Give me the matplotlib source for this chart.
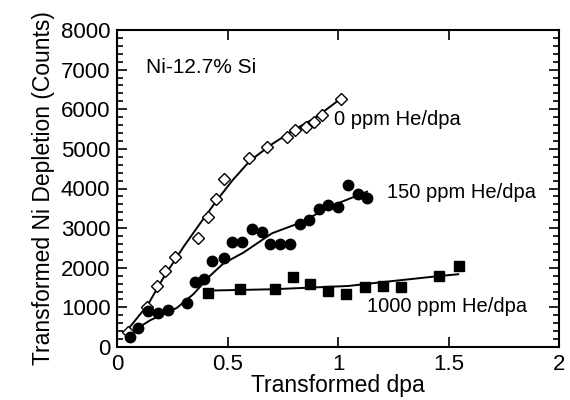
import matplotlib
matplotlib.use('Agg')
import matplotlib.pyplot as plt
from matplotlib.ticker import MultipleLocator

plt.rcParams['font.family'] = ['Liberation Sans', 'DejaVu Sans']

# 0 ppm He/dpa (open diamonds)
x0 = [0.048, 0.133, 0.179, 0.214, 0.259, 0.363, 0.409, 0.445, 0.484, 0.597,
      0.676, 0.766, 0.804, 0.856, 0.891, 0.927, 1.010]
y0 = [386, 1018, 1540, 1927, 2265, 2745, 3290, 3730, 4235, 4765,
      5058, 5311, 5480, 5548, 5682, 5850, 6263]
fx0 = [0.033, 0.137, 0.211, 0.30, 0.375, 0.45, 0.52, 0.6, 0.7, 0.8, 0.9, 0.995]
fy0 = [346, 1060, 1775, 2533, 3124, 3700, 4200, 4700, 5120, 5480, 5800, 6200]

# 150 ppm He/dpa (filled circles)
x150 = [0.055, 0.092, 0.137, 0.182, 0.229, 0.313, 0.350, 0.393, 0.430, 0.484,
        0.519, 0.566, 0.609, 0.653, 0.691, 0.735, 0.780, 0.825, 0.869, 0.914,
        0.955, 1.000, 1.045, 1.089, 1.128]
y150 = [244, 472, 909, 850, 934, 1119, 1633, 1709, 2180, 2239,
        2643, 2643, 2980, 2912, 2593, 2593, 2593, 3106, 3207, 3485,
        3586, 3527, 4091, 3855, 3754]
fx150 = [0.04, 0.15, 0.27, 0.345, 0.42, 0.48, 0.57, 0.7, 0.82, 0.91, 1.0, 1.13]
fy150 = [300, 680, 990, 1340, 1800, 2110, 2380, 2870, 3120, 3380, 3630, 3920]

# 1000 ppm He/dpa (filled squares)
x1000 = [0.408, 0.557, 0.714, 0.796, 0.871, 0.952, 1.034, 1.119, 1.201, 1.283,
         1.458, 1.545]
y1000 = [1372, 1465, 1465, 1760, 1591, 1414, 1330, 1523, 1540, 1507,
         1800, 2053]
fx1000 = [0.397, 0.702, 1.045, 1.193, 1.461, 1.543]
fy1000 = [1422, 1457, 1540, 1633, 1793, 1836]

fig = plt.figure(figsize=(5.7, 4), dpi=100)
ax = fig.add_axes([0.206, 0.1325, 0.775, 0.7925])

ax.plot(fx0, fy0, color='black', lw=1.4)
ax.plot(fx150, fy150, color='black', lw=1.4)
ax.plot(fx1000, fy1000, color='black', lw=1.4)
ax.plot(x0, y0, linestyle='none', marker='D', ms=6.5, mfc='white',
        mec='black', mew=1.0)
ax.plot(x150, y150, linestyle='none', marker='o', ms=7.5, color='black')
ax.plot(x1000, y1000, linestyle='none', marker='s', ms=7, color='black')

ax.set_xlim(0, 2)
ax.set_ylim(0, 8000)
ax.yaxis.set_major_locator(MultipleLocator(1000))
ax.yaxis.set_minor_locator(MultipleLocator(200))
ax.set_xticks([0, 0.5, 1, 1.5, 2], ['0', '0.5', '1', '1.5', '2'])
ax.tick_params(direction='in', which='both', top=True, right=True,
               labelsize=16, width=1.2)
ax.tick_params(which='major', length=7, pad=5)
ax.tick_params(which='minor', length=4)
for s in ax.spines.values():
    s.set_linewidth(1.5)

ax.set_xlabel('Transformed dpa', fontsize=16.5, labelpad=-1)
ax.set_ylabel('Transformed Ni Depletion (Counts)', fontsize=16.5, labelpad=4)

ax.text(0.13, 7045, 'Ni-12.7% Si', fontsize=15, va='center')
ax.text(0.98, 5730, '0 ppm He/dpa', fontsize=14.5, va='center')
ax.text(1.22, 3910, '150 ppm He/dpa', fontsize=14.5, va='center')
ax.text(1.13, 1010, '1000 ppm He/dpa', fontsize=14.5, va='center')

fig.savefig('out.png', dpi=100)
